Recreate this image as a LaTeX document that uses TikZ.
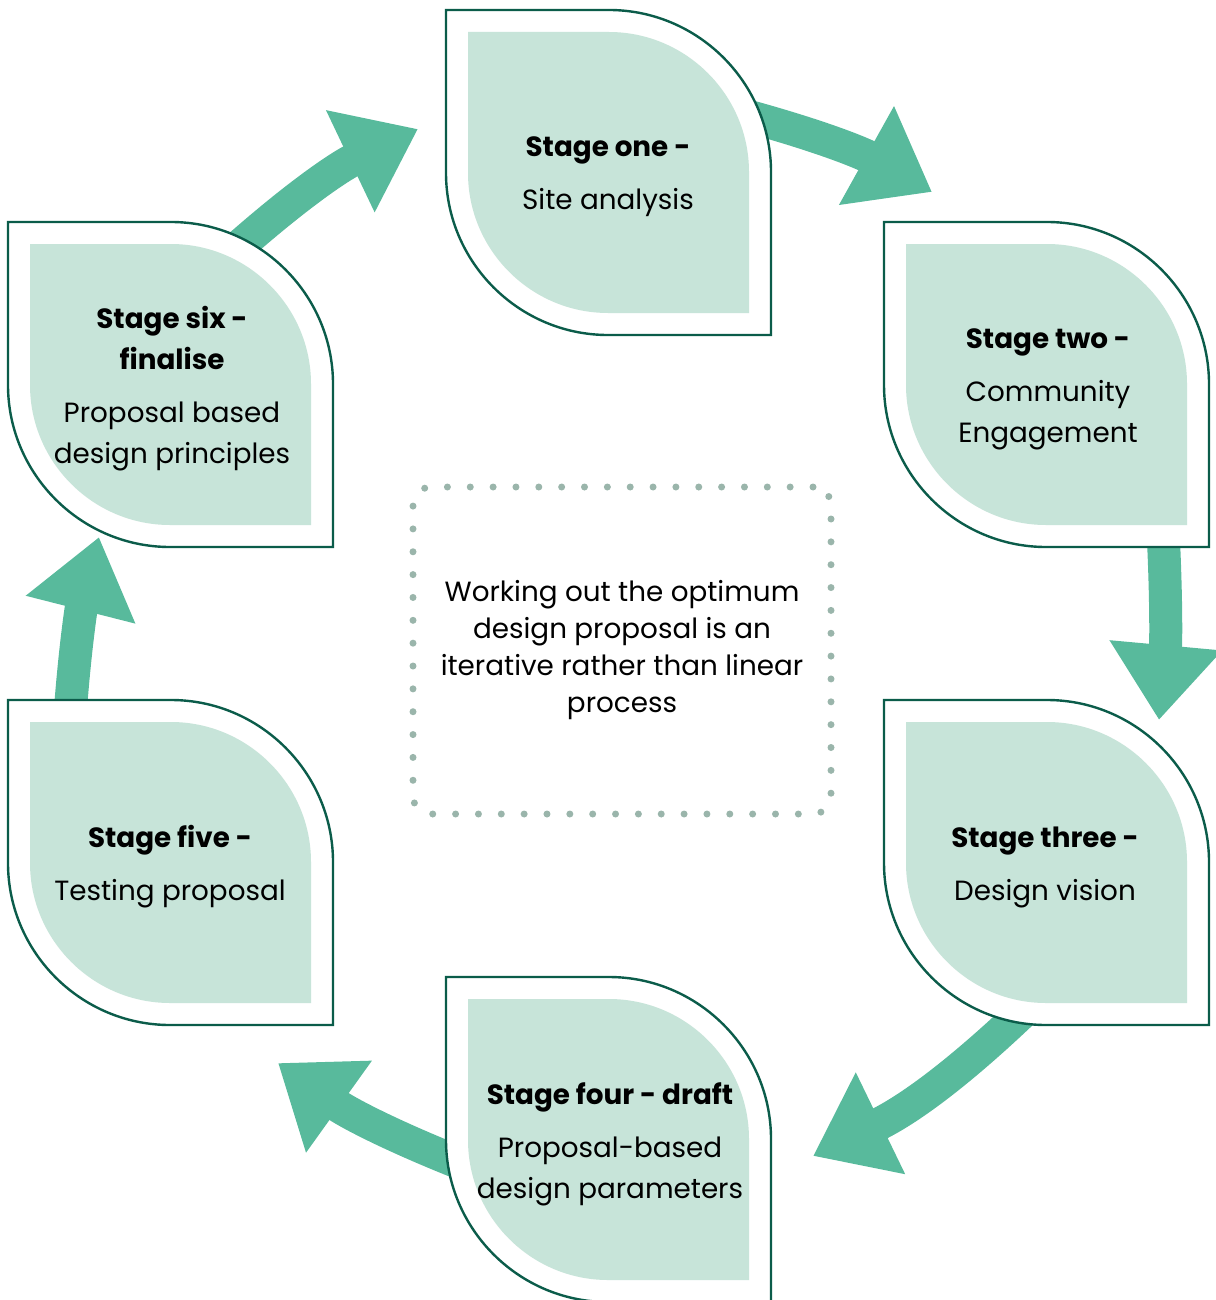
\documentclass[tikz,border=0pt]{standalone}
\usepackage{fontspec}
\setmainfont{Poppins}
\usetikzlibrary{arrows.meta}

\definecolor{leafline}{HTML}{0B5C4A}
\definecolor{leaffill}{HTML}{C7E4D9}
\definecolor{flowgreen}{HTML}{58BA9C}
\definecolor{dotgray}{HTML}{9AB5AB}

% leaf outline: square top left and bottom right, round top right and bottom left
% #1,#2 centre, #3 half side, #4 corner radius
\newcommand{\leafpath}[4]{(#1-#3,#2-#3) -- (#1+#3-#4,#2-#3)
  .. controls (#1+#3-0.45*#4,#2-#3) and (#1+#3,#2-#3+0.45*#4) .. (#1+#3,#2-#3+#4)
  -- (#1+#3,#2+#3) -- (#1-#3+#4,#2+#3)
  .. controls (#1-#3+0.45*#4,#2+#3) and (#1-#3,#2+#3-0.45*#4) .. (#1-#3,#2+#3-#4) -- cycle}
\newcommand{\leafbox}[2]{%
  \filldraw[fill=white, draw=leafline, line width=2.4pt] \leafpath{#1}{#2}{162.5}{162};
  \fill[leaffill] \leafpath{#1}{#2}{140.5}{140};}

\tikzset{
  flow/.style={draw=flowgreen, line width=33pt, -{Triangle[length=75pt,width=108pt]}},
  stage/.style={align=center, text=black, font=\fontsize{27.8}{41}\selectfont},
  note/.style={draw=dotgray, line width=7pt, line cap=round, dash pattern=on 0pt off 22.85pt,
    rounded corners=18pt, minimum width=418pt, minimum height=327pt,
    align=center, text=black, font=\fontsize{27.8}{37}\selectfont}
}

\begin{document}
\begin{tikzpicture}[x=1pt,y=-1pt]
\useasboundingbox (0,0) rectangle (1215,1300);

% arrow ends
\coordinate (a1s) at (740,114);  \coordinate (a1t) at (932,192);
\coordinate (a2s) at (1163,530); \coordinate (a2t) at (1159,720);
\coordinate (a3s) at (1031,1004); \coordinate (a3t) at (813,1156);
\coordinate (a4s) at (465,1165); \coordinate (a4t) at (278,1063);
\coordinate (a5s) at (70,715);   \coordinate (a5t) at (99,537);
\coordinate (a6s) at (235,250);  \coordinate (a6t) at (418,129);

\draw[flow] (a1s) to[bend left=7] (a1t);
\draw[flow] (a2s) to[bend left=4] (a2t);
\draw[flow] (a3s) to[bend left=9] (a3t);
\draw[flow] (a4s) to[bend left=7] (a4t);
\draw[flow] (a5s) to[bend left=5] (a5t);
\draw[flow] (a6s) to[bend left=8] (a6t);

% the six stages
\leafbox{608.5}{172.5}
\leafbox{1046.5}{384.5}
\leafbox{1046.5}{862.5}
\leafbox{608.5}{1139.5}
\leafbox{170.5}{862.5}
\leafbox{170.5}{384.5}

\node[stage] (s1) at (608,177) {\textbf{Stage one -}\\[12pt]Site analysis};
\node[stage] (s2) at (1048,389) {\textbf{Stage two -}\\[12pt]Community\\Engagement};
\node[stage] (s3) at (1045,867) {\textbf{Stage three -}\\[12pt]Design vision};
\node[stage] (s4) at (610,1144) {\textbf{Stage four - draft}\\[12pt]Proposal-based\\design parameters};
\node[stage] (s5) at (170,867) {\textbf{Stage five -}\\[12pt]Testing proposal};
\node[stage] (s6) at (172,389) {\textbf{Stage six -}\\\textbf{finalise}\\[12pt]Proposal based\\design principles};

% middle remark
\node[note] (note) at (622,650.5) {Working out the optimum\\design proposal is an\\iterative rather than linear\\process};
\end{tikzpicture}
\end{document}
